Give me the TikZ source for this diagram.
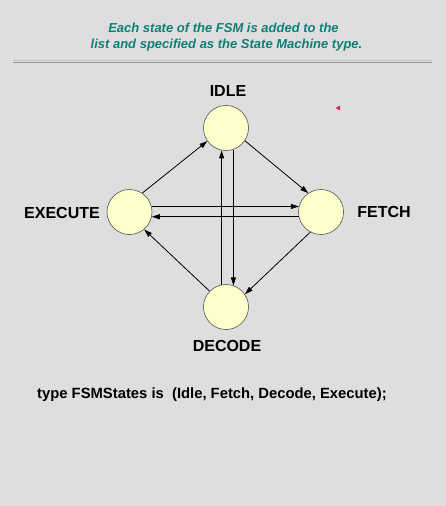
\documentclass[tikz,border=0pt]{standalone}
\usepackage{fontspec}
\setmainfont{Liberation Sans}
\usetikzlibrary{arrows.meta}
\definecolor{bg}{HTML}{DEDEDE}
\definecolor{teal1}{HTML}{0E8077}
\definecolor{statefill}{HTML}{FFFFCC}
\definecolor{statedraw}{HTML}{505050}
\definecolor{pinkmark}{HTML}{E0206A}
\tikzset{
  statecircle/.style={circle, minimum size=45pt, inner sep=0pt, draw=statedraw, line width=0.6pt, fill=statefill},
  statelabel/.style={font=\bfseries\fontsize{16}{16}\selectfont, inner sep=0pt},
  trans/.style={draw=black, line width=0.8pt, -{Triangle[length=8pt,width=5pt]}},
  titletext/.style={font=\bfseries\itshape\fontsize{13}{13}\selectfont, text=teal1, inner sep=0pt},
  codetext/.style={font=\bfseries\fontsize{14.8}{15}\selectfont, inner sep=0pt, anchor=west}
}
\begin{document}
\begin{tikzpicture}[x=1pt,y=-1pt]
\useasboundingbox (0,0) rectangle (446,506);
\fill[bg] (0,0) rectangle (446,506);
% title
\node[titletext] (t1) at (223.5,28) {Each state of the FSM is added to the};
\node[titletext] (t2) at (226.5,45) {list and specified as the State Machine type.};
% rule
\draw[color={rgb,255:red,190;green,190;blue,190}, line width=0.8pt] (13,60.5) -- (432,60.5);
\draw[color={rgb,255:red,150;green,150;blue,150}, line width=1pt] (13,62.5) -- (432,62.5);
% states
\node[statecircle] (idle) at (226,128) {};
\node[statecircle] (exec) at (129.5,212) {};
\node[statecircle] (fetch) at (321,212) {};
\node[statecircle] (decode) at (226,307) {};
% labels
\node[statelabel] (lidle) at (228,91) {IDLE};
\node[statelabel] (lexec) at (62,213) {EXECUTE};
\node[statelabel] (lfetch) at (384,212) {FETCH};
\node[statelabel] (ldecode) at (227,346) {DECODE};
% transitions
\draw[trans] (exec.56) -- (idle.215);
\draw[trans] (idle.326) -- (fetch.124);
\draw[trans] (fetch.242) -- (decode.34);
\draw[trans] (decode.136) -- (exec.310);
\draw[trans] (exec.14) -- (fetch.166);
\draw[trans] (fetch.192) -- (exec.348);
\draw[trans] (decode.101) -- (idle.259);
\draw[trans] (idle.289) -- (decode.71);
% pink mark
\fill[pinkmark] (335.5,108) -- (340,105.5) -- (340,110.5) -- cycle;
% code line
\node[codetext] (code) at (37,395) {type FSMStates is \ (Idle, Fetch, Decode, Execute);};
\end{tikzpicture}
\end{document}
